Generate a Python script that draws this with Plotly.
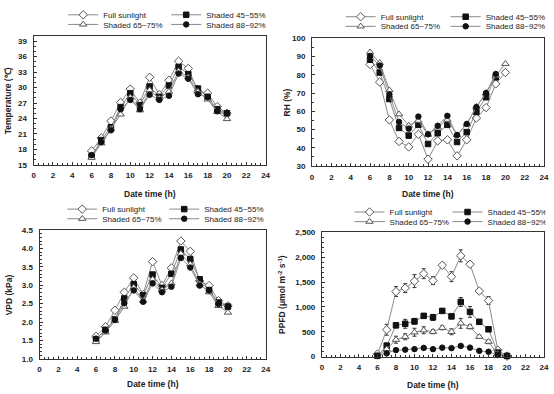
import plotly.graph_objects as go

# ---------------- data ----------------
hours = list(range(6, 21))
hours_to19 = list(range(6, 20))
series_names = ["Full sunlight", "Shaded 45~55%", "Shaded 65~75%", "Shaded 88~92%"]
x_ticks = list(range(0, 25, 2))

temp_full = [17.7, 20.2, 23.5, 27.1, 29.7, 27.0, 32.0, 28.6, 31.4, 35.1, 33.7, 29.2, 28.9, 26.3, 25.0]
temp_45 = [16.7, 19.8, 22.3, 26.2, 28.9, 26.6, 30.2, 28.2, 30.4, 34.0, 32.6, 29.8, 28.2, 25.8, 25.0]
temp_65 = [16.4, 19.2, 22.0, 24.8, 28.1, 25.6, 29.5, 27.9, 29.2, 33.2, 32.0, 29.2, 27.7, 25.3, 23.9]
temp_88 = [16.9, 19.4, 21.7, 25.8, 27.6, 25.8, 28.6, 27.6, 28.4, 32.7, 31.7, 28.7, 28.1, 25.4, 25.0]

rh_full = [85.6, 76.0, 55.3, 43.5, 40.5, 47.4, 33.8, 43.8, 44.4, 35.6, 44.4, 56.3, 62.0, 75.0, 81.2]
rh_45 = [88.2, 81.2, 66.7, 50.9, 46.7, 52.6, 42.1, 48.0, 52.6, 43.2, 48.6, 59.6, 67.7, 78.6]
rh_65 = [92.3, 86.5, 71.6, 58.4, 52.2, 54.9, 47.2, 51.2, 55.4, 47.0, 52.9, 62.5, 70.0, 79.5, 86.0]
rh_88 = [90.3, 85.0, 69.2, 54.2, 50.5, 57.1, 47.4, 52.1, 57.5, 47.0, 53.1, 62.3, 70.0, 80.4]

vpd_full = [1.61, 1.87, 2.32, 2.81, 3.20, 2.75, 3.64, 2.99, 3.47, 4.20, 3.92, 3.12, 2.99, 2.58, 2.44]
vpd_45 = [1.53, 1.79, 2.07, 2.64, 3.03, 2.73, 3.29, 2.93, 3.31, 3.97, 3.71, 3.16, 2.87, 2.53, 2.42]
vpd_65 = [1.46, 1.72, 2.03, 2.42, 2.94, 2.58, 3.16, 2.87, 3.05, 3.86, 3.57, 3.03, 2.81, 2.44, 2.26]
vpd_88 = [1.55, 1.77, 2.06, 2.51, 2.86, 2.55, 3.05, 2.81, 2.96, 3.74, 3.48, 2.99, 2.86, 2.49, 2.42]

ppfd_full = [50, 540, 1310, 1380, 1520, 1670, 1530, 1840, 1610, 2030, 1860, 1320, 1130, 130, 10]
ppfd_full_err = [30, 110, 100, 90, 130, 100, 80, 40, 100, 120, 50, 40, 80, 30, 10]
ppfd_45 = [15, 220, 630, 660, 710, 820, 790, 920, 810, 1100, 900, 700, 550, 80, 13]
ppfd_45_err = [10, 50, 50, 90, 60, 40, 60, 40, 50, 90, 110, 50, 40, 20, 5]
ppfd_65 = [13, 150, 340, 400, 490, 530, 500, 580, 500, 670, 600, 400, 300, 50, 13]
ppfd_65_err = [10, 40, 70, 60, 80, 70, 40, 40, 60, 100, 40, 30, 40, 20, 5]
ppfd_88 = [13, 65, 130, 140, 150, 175, 150, 180, 170, 215, 180, 115, 97, 30, 13]
ppfd_88_err = [5, 15, 20, 20, 20, 20, 20, 20, 20, 30, 20, 15, 15, 10, 5]

# ---------------- styling ----------------
W, H = 554, 394
FONT = "Liberation Sans, Arial, sans-serif"
LINE_COLOR = "#8a8a8a"
AX_COLOR = "#333333"
marker_styles = [
    dict(symbol="diamond", size=6.5, color="white", line=dict(color="#555555", width=1)),
    dict(symbol="square", size=5.5, color="#111111", line=dict(color="#111111", width=1)),
    dict(symbol="triangle-up", size=6.5, color="white", line=dict(color="#555555", width=1)),
    dict(symbol="circle", size=5.5, color="#111111", line=dict(color="#111111", width=1)),
]

def px_x(p):
    return p / W

def px_y(p):
    return 1 - p / H

panels = [
    dict(xa="x", ya="y", xpx=(32, 267), ypx=(27, 161), yr=[15, 40], ytick0=15, ydt=3, ymin=1,
         ytitle="Temperature (℃)", ytx=6, xty=191, leg_rows=(5, 15), leg_x=(104, 207), fmt=None),
    dict(xa="x2", ya="y2", xpx=(314, 549), ypx=(29.3, 162.3), yr=[30, 100], ytick0=30, ydt=10, ymin=5,
         ytitle="RH (%)", ytx=289, xty=191, leg_rows=(7, 17), leg_x=(385, 490), fmt=None),
    dict(xa="x3", ya="y3", xpx=(38, 267), ypx=(228.7, 362.7), yr=[1.0, 4.5], ytick0=1.0, ydt=0.5, ymin=0.1,
         ytitle="VPD (kPa)", ytx=8, xty=389, leg_rows=(207, 217), leg_x=(103, 205), fmt=".1f"),
    dict(xa="x4", ya="y4", xpx=(324, 549), ypx=(231.3, 360.3), yr=[0, 2500], ytick0=0, ydt=500, ymin=100,
         ytitle="PPFD (μmol m<sup>-2</sup> s<sup>-1</sup>)", ytx=284, xty=390, leg_rows=(210, 220), leg_x=(394, 492), fmt=",d"),
]

panel_data = [
    [(hours, temp_full, None), (hours, temp_45, None), (hours, temp_65, None), (hours, temp_88, None)],
    [(hours, rh_full, None), (hours_to19, rh_45, None), (hours, rh_65, None), (hours_to19, rh_88, None)],
    [(hours, vpd_full, None), (hours, vpd_45, None), (hours, vpd_65, None), (hours, vpd_88, None)],
    [(hours, ppfd_full, ppfd_full_err), (hours, ppfd_45, ppfd_45_err),
     (hours, ppfd_65, ppfd_65_err), (hours, ppfd_88, ppfd_88_err)],
]

fig = go.Figure()
layout = dict(
    width=W, height=H, margin=dict(l=0, r=0, t=0, b=0),
    paper_bgcolor="white", plot_bgcolor="white",
    font=dict(family=FONT, size=8, color="#222222"),
    annotations=[],
)

TEXT_GAP = 40
for pi, p in enumerate(panels):
    xa_key = "xaxis" if p["xa"] == "x" else "xaxis" + p["xa"][1:]
    ya_key = "yaxis" if p["ya"] == "y" else "yaxis" + p["ya"][1:]
    layout[xa_key] = dict(
        domain=[px_x(p["xpx"][0]), px_x(p["xpx"][1])], anchor=p["ya"],
        range=[0, 24], tickmode="array", tickvals=x_ticks,
        showline=True, linecolor=AX_COLOR, linewidth=1, mirror=True,
        ticks="inside", ticklen=3, tickcolor=AX_COLOR,
        minor=dict(ticks="inside", dtick=0.5, ticklen=2, tickcolor=AX_COLOR, showgrid=False),
        showgrid=False, zeroline=False, ticklabelstandoff=3,
        tickfont=dict(family=FONT, size=8, color="#222222", weight="bold"),
    )
    yax = dict(
        domain=[px_y(p["ypx"][1]), px_y(p["ypx"][0])], anchor=p["xa"],
        range=p["yr"], tick0=p["ytick0"], dtick=p["ydt"],
        showline=True, linecolor=AX_COLOR, linewidth=1, mirror=True,
        ticks="inside", ticklen=3, tickcolor=AX_COLOR,
        minor=dict(ticks="inside", dtick=p["ymin"], ticklen=2, tickcolor=AX_COLOR, showgrid=False),
        showgrid=False, zeroline=False, ticklabelstandoff=4,
        tickfont=dict(family=FONT, size=8, color="#222222", weight="bold"),
    )
    if p["fmt"]:
        yax["tickformat"] = p["fmt"]
    layout[ya_key] = yax

    lg1 = "legend" if pi == 0 else f"legend{2 * pi + 1}"
    lg2 = f"legend{2 * pi + 2}"
    for lg, rowy in ((lg1, p["leg_rows"][0]), (lg2, p["leg_rows"][1])):
        layout[lg] = dict(
            orientation="h", xanchor="left", yanchor="middle",
            x=px_x(p["leg_x"][0] - TEXT_GAP - 2), y=px_y(rowy),
            bgcolor="rgba(0,0,0,0)", borderwidth=0,
            entrywidth=p["leg_x"][1] - p["leg_x"][0] - TEXT_GAP - 5, entrywidthmode="pixels",
            font=dict(family=FONT, size=8, color="#222222"),
            itemwidth=30, tracegroupgap=0,
        )

    for si, (xs, ys, err) in enumerate(panel_data[pi]):
        tr = dict(
            x=xs, y=ys, name=series_names[si], mode="lines+markers",
            line=dict(color=LINE_COLOR, width=1),
            marker=marker_styles[si], xaxis=p["xa"], yaxis=p["ya"],
            legend=lg1 if si < 2 else lg2, cliponaxis=False,
        )
        if err is not None:
            tr["error_y"] = dict(type="data", array=err, visible=True,
                                 color="#333333", thickness=1, width=2)
        fig.add_trace(go.Scatter(**tr))

    cx = (p["xpx"][0] + p["xpx"][1]) / 2
    cy = (p["ypx"][0] + p["ypx"][1]) / 2
    layout["annotations"].append(dict(
        text="<b>Date time (h)</b>", x=px_x(cx), y=px_y(p["xty"]), xref="paper", yref="paper",
        showarrow=False, xanchor="center", yanchor="middle",
        font=dict(family=FONT, size=8.5, color="#222222")))
    layout["annotations"].append(dict(
        text="<b>" + p["ytitle"] + "</b>", x=px_x(p["ytx"]), y=px_y(cy), xref="paper", yref="paper",
        showarrow=False, xanchor="center", yanchor="middle", textangle=-90,
        font=dict(family=FONT, size=8.5, color="#222222")))

fig.update_layout(**layout)
fig.write_html("out.html")
